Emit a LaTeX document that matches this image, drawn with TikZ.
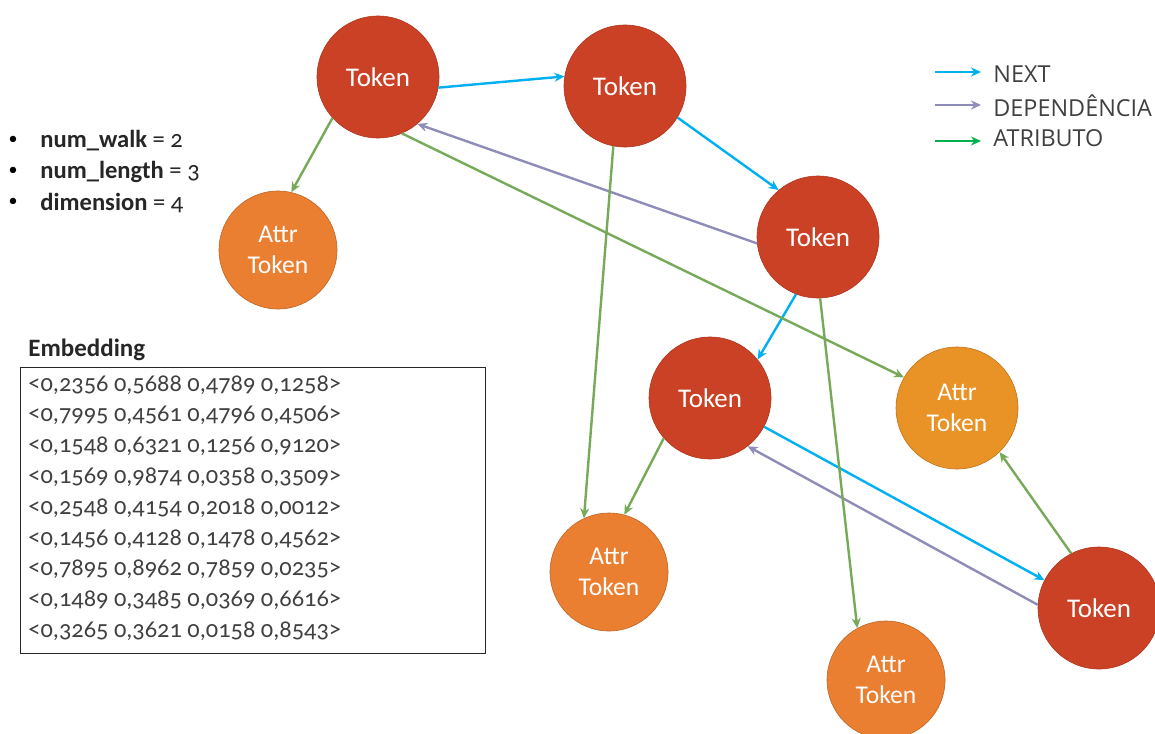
\documentclass[tikz,border=0pt]{standalone}
\usepackage{fontspec}
\setmainfont{Carlito}[Numbers=OldStyle]
\newfontfamily\legfont{Open Sans}
\usetikzlibrary{arrows.meta}
\definecolor{tokred}{RGB}{203,65,37}
\definecolor{attrorange}{RGB}{235,127,49}
\definecolor{attryellow}{RGB}{233,146,37}
\definecolor{nextblue}{RGB}{0,176,240}
\definecolor{deppurple}{RGB}{142,140,184}
\definecolor{attrgreen}{RGB}{118,170,88}
\definecolor{leggreen}{RGB}{0,176,80}
\definecolor{txtgray}{RGB}{64,64,64}
\begin{document}
\begin{tikzpicture}[x=0.5pt,y=-0.5pt,
  tok/.style={circle,fill=tokred,draw=tokred!85!black,line width=0.3pt,minimum size=61pt,inner sep=0pt,text=white,font=\fontsize{13.5}{15}\selectfont},
  attr/.style={circle,fill=attrorange,draw=attrorange!80!black,line width=0.3pt,minimum size=59pt,inner sep=0pt,text=white,align=center,font=\fontsize{12.8}{15.5}\selectfont},
  edgebase/.style={line width=1.2pt,-{Stealth[length=5pt,width=4.5pt]}},
  nextedge/.style={edgebase,draw=nextblue},
  depedge/.style={edgebase,draw=deppurple},
  attredge/.style={edgebase,draw=attrgreen},
  legtext/.style={anchor=west,text=txtgray,font=\legfont\fontsize{11.7}{13}\selectfont,inner sep=0pt}
]
\useasboundingbox (0,0) rectangle (1155,733);

% token nodes
\node[tok] (T1) at (378,77) {Token};
\node[tok] (T2) at (625,86) {Token};
\node[tok] (T3) at (818,237) {Token};
\node[tok] (T4) at (710,398) {Token};
\node[tok] (T5) at (1099,608) {Token};
% attribute nodes
\node[attr] (A1) at (278,250) {Attr\\Token};
\node[attr,minimum size=61pt,fill=attryellow,draw=attryellow!80!black] (A2) at (957,408) {Attr\\Token};
\node[attr] (A3) at (609,572) {Attr\\Token};
\node[attr] (A4) at (886,680) {Attr\\Token};

% NEXT edges
\draw[nextedge] (T1.-10) -- (T2.171);
\draw[nextedge] (T2.-31) -- (T3.130);
\draw[nextedge] (T3.-111) -- (T4.39);
\draw[nextedge] (T4.-28) -- (T5.153);
% dependency edges
\draw[depedge] (T3.186) -- (T1.-50);
\draw[depedge] (T5.177) -- (T4.-52);
% attribute edges
\draw[attredge] (T1.-138) -- (A1.77);
\draw[attredge] (T1.-67) -- (A2.150);
\draw[attredge] (T2.-101) -- (A3.115);
\draw[attredge] (T4.-139) -- (A3.75);
\draw[attredge] (T3.-88) -- (A4.119);
\draw[attredge] (T5.117) -- (A2.-46);

% legend
\coordinate (L1a) at (935,72); \coordinate (L1b) at (981,72);
\coordinate (L2a) at (935,105); \coordinate (L2b) at (981,105);
\coordinate (L3a) at (935,141); \coordinate (L3b) at (981,141);
\draw[nextedge,line width=1pt] (L1a) -- (L1b);
\draw[depedge,line width=1pt] (L2a) -- (L2b);
\draw[edgebase,draw=leggreen,line width=0.8pt] (L3a) -- (L3b);
\node[legtext] (LT1) at (993,74) {NEXT};
\node[legtext] (LT2) at (993,106) {DEPENDÊNCIA};
\node[legtext] (LT3) at (993,138) {ATRIBUTO};

% parameter list
\tikzset{bul/.style={inner sep=0pt,font=\fontsize{9}{12}\selectfont},
  par/.style={anchor=west,inner sep=0pt,text=black!85,font=\fontsize{12.3}{14}\selectfont}}
\node[bul] (B1) at (13,140) {\textbullet};
\node[bul] (B2) at (13,171) {\textbullet};
\node[bul] (B3) at (13,202) {\textbullet};
\node[par] (P1) at (40,141) {\textbf{num\_walk} = 2};
\node[par] (P2) at (40,172) {\textbf{num\_length} = 3};
\node[par] (P3) at (40,203) {\textbf{dimension} = 4};

% embedding
\node[anchor=west,inner sep=0pt,font=\bfseries\fontsize{12.5}{14}\selectfont,text=black!85] (EmbT) at (28,350) {Embedding};
\node[draw=black!85,line width=0.7pt,minimum width=232.5pt,minimum height=143pt,anchor=north west,inner sep=0pt] (Emb) at (20,367) {};
\node[anchor=north west,align=left,inner sep=0pt,text=txtgray,font=\fontsize{12.2}{15.4}\selectfont] (EmbV) at ([xshift=4pt,yshift=-4pt]Emb.north west)
{<0,2356 0,5688 0,4789 0,1258>\\
<0,7995 0,4561 0,4796 0,4506>\\
<0,1548 0,6321 0,1256 0,9120>\\
<0,1569 0,9874 0,0358 0,3509>\\
<0,2548 0,4154 0,2018 0,0012>\\
<0,1456 0,4128 0,1478 0,4562>\\
<0,7895 0,8962 0,7859 0,0235>\\
<0,1489 0,3485 0,0369 0,6616>\\
<0,3265 0,3621 0,0158 0,8543>};
\end{tikzpicture}
\end{document}
